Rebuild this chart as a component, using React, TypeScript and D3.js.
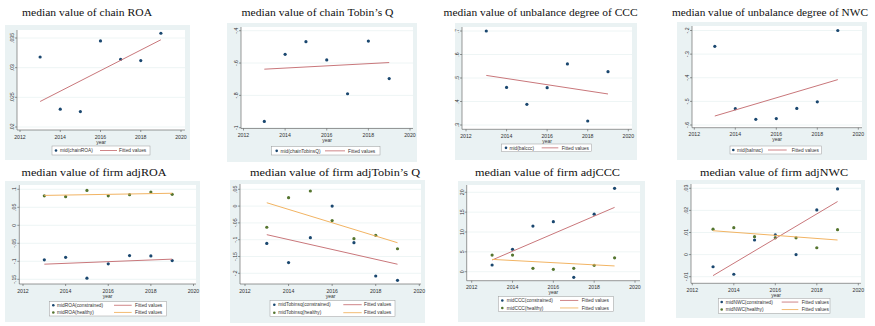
import React from "react";
import * as d3 from "d3";

// ---- data -------------------------------------------------------------
const years = [2013, 2014, 2015, 2016, 2017, 2018, 2019];
const fitYears = [2013, 2019];
const xTicks = [2012, 2014, 2016, 2018, 2020];

const chainROA = [0.0318, 0.023, 0.0226, 0.0345, 0.0314, 0.0312, 0.0358];
const chainROAFit = [0.0243, 0.0347];
const chainROATicks = [0.02, 0.025, 0.03, 0.035];

const chainTobinsQ = [-0.961, -0.546, -0.468, -0.581, -0.79, -0.464, -0.696];
const chainTobinsQFit = [-0.638, -0.597];
const chainTobinsQTicks = [-1, -0.8, -0.6, -0.4];

const balCCC = [0.7, 0.46, 0.388, 0.459, 0.56, 0.317, 0.527];
const balCCCFit = [0.511, 0.432];
const balCCCTicks = [0.3, 0.4, 0.5, 0.6, 0.7];

const balNWC = [-0.267, -0.531, -0.576, -0.573, -0.53, -0.502, -0.2];
const balNWCFit = [-0.562, -0.408];
const balNWCTicks = [-0.6, -0.5, -0.4, -0.3, -0.2];

const roaConstrained = [-0.096, -0.089, -0.147, -0.107, -0.084, -0.085, -0.098];
const roaConstrainedFit = [-0.108, -0.094];
const roaHealthy = [0.082, 0.0795, 0.097, 0.082, 0.085, 0.0925, 0.086];
const roaHealthyFit = [0.083, 0.089];
const adjROATicks = [-0.15, -0.1, -0.05, 0, 0.05, 0.1];

const tobinConstrained = [-0.111, -0.168, -0.094, 0.0, -0.109, -0.208, -0.221];
const tobinConstrainedFit = [-0.085, -0.173];
const tobinHealthy = [-0.063, 0.025, 0.045, -0.043, -0.097, -0.087, -0.127];
const tobinHealthyFit = [0.01, -0.109];
const adjTobinTicks = [-0.2, -0.15, -0.1, -0.05, 0, 0.05];

const cccConstrained = [1.69, 5.64, 11.5, 12.6, -1.41, 14.5, 21.0];
const cccConstrainedFit = [2.95, 16.2];
const cccHealthy = [4.2, 4.2, 0.86, 0.6, 0.86, 1.6, 3.5];
const cccHealthyFit = [3.1, 1.45];
const adjCCCTicks = [0, 5, 10, 15, 20];

const nwcConstrained = [-0.0055, -0.0089, 0.0066, 0.0089, 0.0, 0.0202, 0.0297];
const nwcConstrainedFit = [-0.0095, 0.024];
const nwcHealthy = [0.0115, 0.0122, 0.0081, 0.0076, 0.0076, 0.0031, 0.0113];
const nwcHealthyFit = [0.0108, 0.0066];
const adjNWCTicks = [-0.01, 0, 0.01, 0.02, 0.03];

// ---- styling ----------------------------------------------------------
const NAVY = "#1a476f";
const GREEN = "#55752f";
const MAROON = "#c9777b";
const ORANGE = "#f2b463";
const REGION = "#eaf2f3";
const SERIF = "'Liberation Serif', 'Times New Roman', serif";
const SANS = "'Liberation Sans', Arial, sans-serif";

// Stata-style number label: drop the leading zero (".035", "-.4")
const fmt = (v: number) => {
  const s = String(+v.toFixed(6));
  return s.replace(/^(-?)0\./, "$1.");
};

type Series = { label: string; values: number[]; fit: number[]; dot: string; line: string };
type Panel = {
  title: string;
  series: Series[];
  yTicks: number[];
  bg: number[];
  plot: number[];
  xRange: number[];
  yRange: number[];
  titleX: number;
  titleY: number;
  titleW: number;
  legend: { box: number[]; marker: number; text: number; line: number[]; fitText: number };
};

const panels: Panel[] = [
  {
    title: "median value of chain ROA",
    series: [{ label: "mid(chainROA)", values: chainROA, fit: chainROAFit, dot: NAVY, line: MAROON }],
    yTicks: chainROATicks,
    bg: [5, 25, 190, 160],
    plot: [17, 30, 185, 130],
    xRange: [20, 181],
    yRange: [127, 38],
    titleX: 87, titleY: 16, titleW: 130,
    legend: { box: [52, 146, 150, 155], marker: 56, text: 60, line: [100, 117], fitText: 119 },
  },
  {
    title: "median value of chain Tobin\u2019s Q",
    series: [{ label: "mid(chainTobinsQ)", values: chainTobinsQ, fit: chainTobinsQFit, dot: NAVY, line: MAROON }],
    yTicks: chainTobinsQTicks,
    bg: [227, 23, 417, 162],
    plot: [241, 27, 413, 128.5],
    xRange: [243.5, 410],
    yRange: [127.7, 30.7],
    titleX: 317.5, titleY: 16, titleW: 152,
    legend: { box: [271.7, 146.7, 380, 155], marker: 276.7, text: 280.5, line: [325, 345], fitText: 348 },
  },
  {
    title: "median value of unbalance degree of CCC",
    series: [{ label: "mid(balccc)", values: balCCC, fit: balCCCFit, dot: NAVY, line: MAROON }],
    yTicks: balCCCTicks,
    bg: [455, 23, 637, 160],
    plot: [462, 27, 632, 129.3],
    xRange: [466, 628.3],
    yRange: [125, 31],
    titleX: 540.5, titleY: 16, titleW: 194,
    legend: { box: [501.7, 144, 591.7, 151.7], marker: 506, text: 509.5, line: [541.7, 558.3], fitText: 561.7 },
  },
  {
    title: "median value of unbalance degree of NWC",
    series: [{ label: "mid(balnwc)", values: balNWC, fit: balNWCFit, dot: NAVY, line: MAROON }],
    yTicks: balNWCTicks,
    bg: [677, 22, 867, 160],
    plot: [692, 26, 862, 127.7],
    xRange: [694.3, 858.3],
    yRange: [125, 30.5],
    titleX: 770, titleY: 16, titleW: 196,
    legend: { box: [730, 146, 821.7, 154], marker: 733.3, text: 737, line: [768, 786.7], fitText: 791.7 },
  },
  {
    title: "median value of firm adjROA",
    series: [
      { label: "midROA(constrained)", values: roaConstrained, fit: roaConstrainedFit, dot: NAVY, line: MAROON },
      { label: "midROA(healthy)", values: roaHealthy, fit: roaHealthyFit, dot: GREEN, line: ORANGE },
    ],
    yTicks: adjROATicks,
    bg: [5, 181, 200, 322],
    plot: [19.3, 185, 196, 284],
    xRange: [23, 193.5],
    yRange: [279.3, 189.3],
    titleX: 94, titleY: 176, titleW: 145,
    legend: { box: [49.3, 301.7, 166.7, 316], marker: 53.3, text: 57, line: [114, 131.7], fitText: 135 },
  },
  {
    title: "median value of firm adjTobin\u2019s Q",
    series: [
      { label: "midTobinsq(constrained)", values: tobinConstrained, fit: tobinConstrainedFit, dot: NAVY, line: MAROON },
      { label: "midTobinsq(healthy)", values: tobinHealthy, fit: tobinHealthyFit, dot: GREEN, line: ORANGE },
    ],
    yTicks: adjTobinTicks,
    bg: [230, 180, 425, 323],
    plot: [240, 184, 421, 284],
    xRange: [245, 419.3],
    yRange: [273.3, 189.3],
    titleX: 335, titleY: 176, titleW: 170,
    legend: { box: [270, 300.7, 395, 316.7], marker: 274.3, text: 278.3, line: [343.3, 361.7], fitText: 364 },
  },
  {
    title: "median value of firm adjCCC",
    series: [
      { label: "midCCC(constrained)", values: cccConstrained, fit: cccConstrainedFit, dot: NAVY, line: MAROON },
      { label: "midCCC(healthy)", values: cccHealthy, fit: cccHealthyFit, dot: GREEN, line: ORANGE },
    ],
    yTicks: adjCCCTicks,
    bg: [458, 181, 645, 322],
    plot: [466.7, 185, 640, 280.7],
    xRange: [471.7, 635],
    yRange: [271.7, 192.3],
    titleX: 547.5, titleY: 176, titleW: 145,
    legend: { box: [498.3, 296.7, 613.3, 311.7], marker: 502.3, text: 506.7, line: [560, 578.3], fitText: 581.7 },
  },
  {
    title: "median value of firm adjNWC",
    series: [
      { label: "midNWC(constrained)", values: nwcConstrained, fit: nwcConstrainedFit, dot: NAVY, line: MAROON },
      { label: "midNWC(healthy)", values: nwcHealthy, fit: nwcHealthyFit, dot: GREEN, line: ORANGE },
    ],
    yTicks: adjNWCTicks,
    bg: [676, 180, 865, 318],
    plot: [691, 184, 861, 283.3],
    xRange: [692.3, 858.3],
    yRange: [276.7, 188.3],
    titleX: 774, titleY: 176, titleW: 148,
    legend: { box: [718.3, 298.3, 830, 313.3], marker: 721.7, text: 725.7, line: [781.7, 798.3], fitText: 801.7 },
  },
];

function PanelView({ p }: { p: Panel }) {
  const x = d3.scaleLinear().domain([xTicks[0], xTicks[xTicks.length - 1]]).range(p.xRange);
  const y = d3.scaleLinear().domain([p.yTicks[0], p.yTicks[p.yTicks.length - 1]]).range(p.yRange);
  const [bx0, by0, bx1, by1] = p.bg;
  const [px0, py0, px1, py1] = p.plot;
  const line = d3.line<[number, number]>().x((d) => x(d[0])).y((d) => y(d[1]));
  const lg = p.legend;
  const [lx0, ly0, lx1, ly1] = lg.box;
  const rows = p.series.length;
  const rowH = (ly1 - ly0) / rows;

  return (
    <g>
      <rect x={bx0} y={by0} width={bx1 - bx0} height={by1 - by0} fill={REGION} />
      <rect x={px0} y={py0} width={px1 - px0} height={py1 - py0} fill="#ffffff" />
      {/* horizontal grid */}
      {p.yTicks.map((t) => (
        <line key={"g" + t} x1={px0} x2={px1} y1={y(t)} y2={y(t)} stroke={REGION} strokeWidth={0.8} />
      ))}
      {/* y axis */}
      <line x1={px0} x2={px0} y1={py0} y2={py1} stroke="#555" strokeWidth={0.6} />
      {p.yTicks.map((t) => (
        <g key={"y" + t}>
          <line x1={px0 - 2} x2={px0} y1={y(t)} y2={y(t)} stroke="#555" strokeWidth={0.6} />
          <text
            transform={`translate(${px0 - 3},${y(t)}) rotate(-90)`}
            textAnchor="middle"
            fontFamily={SANS}
            fontSize={5.2}
            fill="#333"
          >
            {fmt(t)}
          </text>
        </g>
      ))}
      {/* x axis */}
      <line x1={px0} x2={px1} y1={py1} y2={py1} stroke="#555" strokeWidth={0.6} />
      {xTicks.map((t) => (
        <g key={"x" + t}>
          <line x1={x(t)} x2={x(t)} y1={py1} y2={py1 + 2} stroke="#555" strokeWidth={0.6} />
          <text x={x(t)} y={py1 + 8.5} textAnchor="middle" fontFamily={SANS} fontSize={5.2} fill="#333">
            {t}
          </text>
        </g>
      ))}
      <text x={(px0 + px1) / 2} y={py1 + 13.5} textAnchor="middle" fontFamily={SANS} fontSize={5} fill="#333">
        year
      </text>
      {/* marks */}
      {p.series.map((s, i) => (
        <g key={"s" + i}>
          {s.values.map((v, j) => (
            <circle key={j} cx={x(years[j])} cy={y(v)} r={1.6} fill={s.dot} />
          ))}
        </g>
      ))}
      {p.series.map((s, i) => (
        <path
          key={"f" + i}
          d={line(fitYears.map((yr, j) => [yr, s.fit[j]] as [number, number])) || ""}
          fill="none"
          stroke={s.line}
          strokeWidth={1}
        />
      ))}
      {/* title */}
      <text
        x={p.titleX}
        y={p.titleY}
        textAnchor="middle"
        fontFamily={SERIF}
        fontSize={11}
        textLength={p.titleW}
        lengthAdjust="spacingAndGlyphs"
        fill="#111"
      >
        {p.title}
      </text>
      {/* legend */}
      <rect x={lx0} y={ly0} width={lx1 - lx0} height={ly1 - ly0} fill="#ffffff" stroke="#9a9a9a" strokeWidth={0.5} />
      {p.series.map((s, i) => {
        const cy = ly0 + rowH * (i + 0.5);
        return (
          <g key={"l" + i}>
            <circle cx={lg.marker} cy={cy} r={1.3} fill={s.dot} />
            <text x={lg.text} y={cy + 1.7} fontFamily={SANS} fontSize={4.8} fill="#333">
              {s.label}
            </text>
            <line x1={lg.line[0]} x2={lg.line[1]} y1={cy} y2={cy} stroke={s.line} strokeWidth={0.9} />
            <text x={lg.fitText} y={cy + 1.7} fontFamily={SANS} fontSize={4.8} fill="#333">
              Fitted values
            </text>
          </g>
        );
      })}
    </g>
  );
}

export default function App() {
  return (
    <div style={{ position: "fixed", left: 0, top: 0 }}>
      <svg width={875} height={326} viewBox="0 0 875 326" style={{ display: "block", background: "#ffffff" }}>
        {panels.map((p, i) => (
          <PanelView key={i} p={p} />
        ))}
      </svg>
    </div>
  );
}
